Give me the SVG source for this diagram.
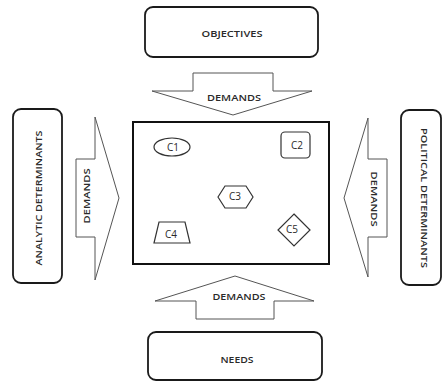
<svg xmlns="http://www.w3.org/2000/svg" width="442" height="382" viewBox="0 0 442 382">
<style>
.box{fill:#fff;stroke:#1a1a1a;stroke-width:1.8}
.arrow{fill:#fff;stroke:#555;stroke-width:1}
.shape{fill:#fff;stroke:#333;stroke-width:1.2}
.t{font-family:"Open Sans","Liberation Sans",sans-serif;font-size:9.5px;font-weight:600;fill:#2a2a2a;text-anchor:middle;dominant-baseline:central}
.c{font-family:"Open Sans","Liberation Sans",sans-serif;font-size:10px;fill:#2a2a2a;text-anchor:middle;dominant-baseline:central}
</style>
<rect width="442" height="382" fill="#fff"/>
<g id="objectives">
<rect class="box" x="145" y="7" width="173" height="50" rx="8"/>
<text class="t" x="232" y="33" textLength="61" lengthAdjust="spacingAndGlyphs">OBJECTIVES</text>
</g>
<g id="needs">
<rect class="box" x="148" y="332" width="174" height="48" rx="8"/>
<text class="t" x="237" y="359" textLength="33" lengthAdjust="spacingAndGlyphs">NEEDS</text>
</g>
<g id="analytic">
<rect class="box" x="13" y="109" width="49" height="174" rx="8"/>
<text class="t" transform="translate(38,198) rotate(-90)" x="0" y="0" textLength="135" lengthAdjust="spacingAndGlyphs">ANALYTIC DETERMINANTS</text>
</g>
<g id="political">
<rect class="box" x="401" y="110" width="40" height="175" rx="8"/>
<text class="t" transform="translate(424,198) rotate(90)" x="0" y="0" textLength="140" lengthAdjust="spacingAndGlyphs">POLITICAL DETERMINANTS</text>
</g>
<g id="connectors">
<g id="demands-top">
<polygon class="arrow" points="193,73 273,73 273,91 312,91 233,115 152,91 193,91"/>
<text class="t" x="234" y="97" textLength="54" lengthAdjust="spacingAndGlyphs">DEMANDS</text>
</g>
<g id="demands-bottom">
<polygon class="arrow" points="196,319 274,319 274,301 314,301 235,276 155,301 196,301"/>
<text class="t" x="239" y="296" textLength="53" lengthAdjust="spacingAndGlyphs">DEMANDS</text>
</g>
<g id="demands-left">
<polygon class="arrow" points="76,159 95,159 95,117 119,198 95,280 95,237 76,237"/>
<text class="t" transform="translate(86,196) rotate(-90)" x="0" y="0" textLength="55" lengthAdjust="spacingAndGlyphs">DEMANDS</text>
</g>
<g id="demands-right">
<polygon class="arrow" points="387,159 368,159 368,118 344,198 368,277 368,237 387,237"/>
<text class="t" transform="translate(374,199) rotate(90)" x="0" y="0" textLength="55" lengthAdjust="spacingAndGlyphs">DEMANDS</text>
</g>
</g>
<g id="system">
<rect x="133" y="122" width="196" height="142" fill="#fff" stroke="#111" stroke-width="2"/>
</g>
<g id="c1">
<ellipse class="shape" cx="172" cy="147" rx="18" ry="9"/>
<text class="c" x="173" y="147">C1</text>
</g>
<g id="c2">
<rect class="shape" x="281" y="132" width="29" height="26" rx="4"/>
<text class="c" x="297" y="145">C2</text>
</g>
<g id="c3">
<polygon class="shape" points="218,197 225,186 246,186 253,197 246,208 225,208"/>
<text class="c" x="235" y="196">C3</text>
</g>
<g id="c4">
<polygon class="shape" points="159,222 185,222 190,243 154,243"/>
<text class="c" x="171" y="234">C4</text>
</g>
<g id="c5">
<polygon class="shape" points="294,214 310,230 294,246 278,230"/>
<text class="c" x="292" y="229">C5</text>
</g>
</svg>
